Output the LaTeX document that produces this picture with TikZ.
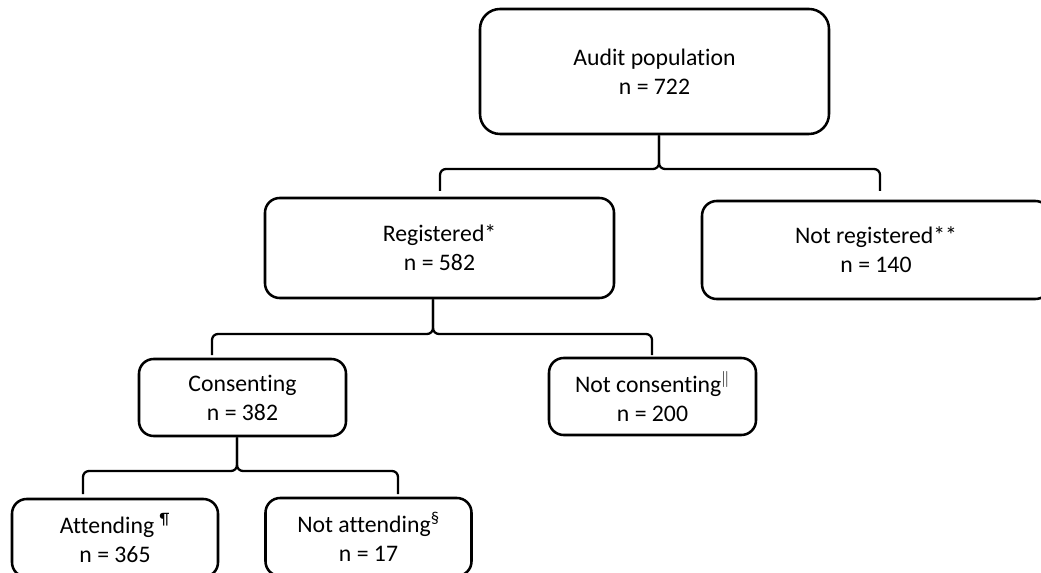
\documentclass[tikz,border=0pt]{standalone}
\usepackage{fontspec}
\setmainfont[Ligatures=NoCommon]{Carlito}
\usetikzlibrary{calc}

\tikzset{
	box/.style={draw, line width=1.9pt, rounded corners=11pt, align=center, inner sep=0pt,
		font=\fontsize{17.8}{21.75}\selectfont},
	link/.style={draw, line width=1.7pt, rounded corners=4.5pt}}
\tikzset{every picture/.style={line width=0.75pt}}

\begin{document}
\begin{tikzpicture}[x=0.75pt,y=0.75pt,yscale=-1,xscale=1]
	\useasboundingbox (0,0) rectangle (1041,573);
	\clip (0,0) rectangle (1041,573);

	%Shape: Rounded Rect [id:audit] 
	\node [box, rounded corners=15pt, minimum width=261.75pt, minimum height=93.75pt] (audit) at (654.5,71.5) {Audit population\\n = 722};
	%Shape: Rounded Rect [id:reg] 
	\node [box, minimum width=261.75pt, minimum height=75pt] (reg) at (439.5,248) {Registered*\\n = 582};
	%Shape: Rounded Rect [id:notreg] 
	\node [box, minimum width=261pt, minimum height=73.5pt] (notreg) at (876,250) {Not registered**\\n = 140};
	%Shape: Rounded Rect [id:cons] 
	\node [box, minimum width=155.25pt, minimum height=57.75pt] (cons) at (242.5,397.5) {Consenting\\n = 382};
	%Shape: Rounded Rect [id:notcons] 
	\node [box, minimum width=155.25pt, minimum height=57.75pt] (notcons) at (652.5,396.5) {Not consenting$^{\|}$\\n = 200};
	%Shape: Rounded Rect [id:att] 
	\node [box, minimum width=154.5pt, minimum height=58.5pt] (att) at (115,538) {Attending \textsuperscript{¶}\\n = 365};
	%Shape: Rounded Rect [id:notatt] 
	\node [box, minimum width=154.5pt, minimum height=58.5pt] (notatt) at (368.5,537) {Not attending\textsuperscript{§}\\n = 17};

	% Brace ends
	\coordinate (audit-j) at (659,169);
	\coordinate (reg-in) at (440,191);
	\coordinate (notreg-in) at (880,191);
	\coordinate (reg-j) at (433,334);
	\coordinate (cons-in) at (212,355);
	\coordinate (notcons-in) at (652,355);
	\coordinate (cons-j) at (237,471);
	\coordinate (att-in) at (83,494);
	\coordinate (notatt-in) at (398,494);

	%Brace [id:audit] 
	\draw [link] (audit.south -| audit-j) -- (audit-j) -| (reg-in);
	\draw [link] (audit.south -| audit-j) -- (audit-j) -| (notreg-in);
	%Brace [id:reg] 
	\draw [link] (reg.south -| reg-j) -- (reg-j) -| (cons-in);
	\draw [link] (reg.south -| reg-j) -- (reg-j) -| (notcons-in);
	%Brace [id:cons] 
	\draw [link] (cons.south -| cons-j) -- (cons-j) -| (att-in);
	\draw [link] (cons.south -| cons-j) -- (cons-j) -| (notatt-in);

\end{tikzpicture}
\end{document}
